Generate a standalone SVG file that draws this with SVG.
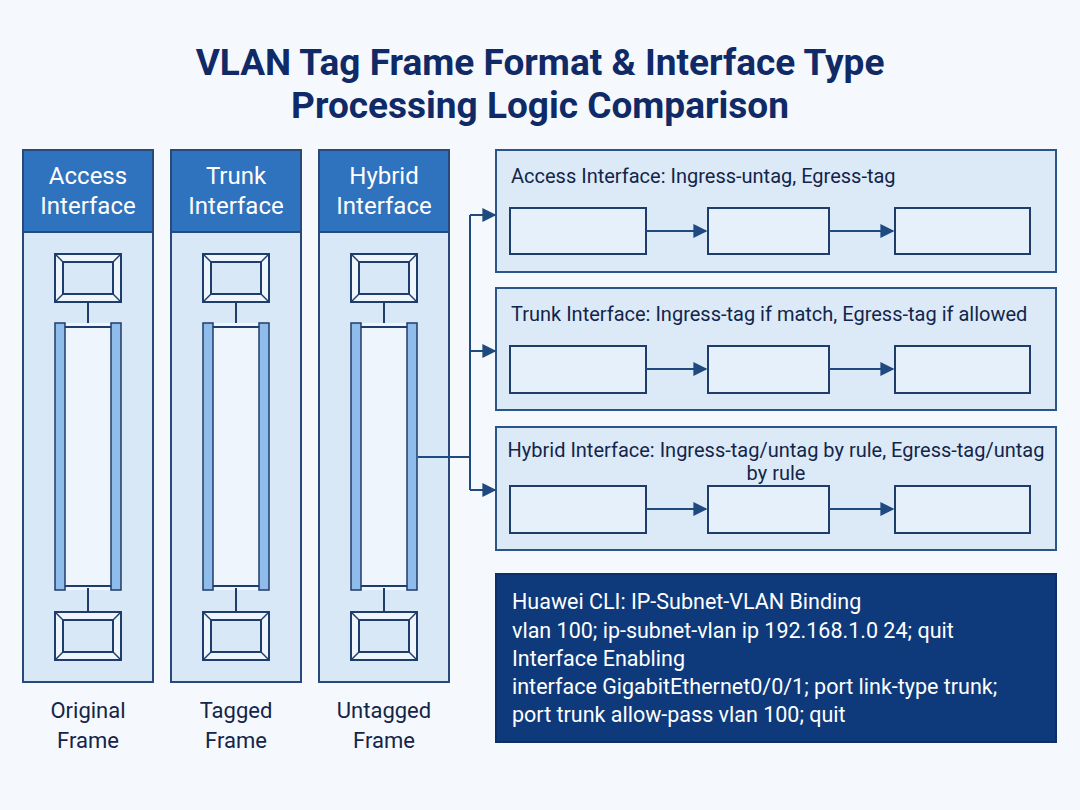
<svg xmlns="http://www.w3.org/2000/svg" width="1080" height="810" viewBox="0 0 1080 810">
<defs>
<style>
.title{font-family:Roboto,"Liberation Sans",sans-serif;font-weight:bold;font-size:37px;fill:#0f2a66;text-anchor:middle}
.hdrtxt{font-family:Roboto,"Liberation Sans",sans-serif;font-size:24px;fill:#ffffff;text-anchor:middle}
.lbl{font-family:Roboto,"Liberation Sans",sans-serif;font-size:22px;fill:#13254a;text-anchor:middle}
.ptitle{font-family:Roboto,"Liberation Sans",sans-serif;font-size:20px;fill:#13254a}
.cli{font-family:Roboto,"Liberation Sans",sans-serif;font-size:21.5px;fill:#ffffff}
.col{fill:#d8e8f7;stroke:#284a7a;stroke-width:2}
.hdr{fill:#2f72bd;stroke:#284a7a;stroke-width:2}
.frm{fill:#eef5fc;stroke:#1f3d6a;stroke-width:2}
.frmi{fill:#d8e8f7;stroke:#1f3d6a;stroke-width:2}
.bev{stroke:#1f3d6a;stroke-width:1.5}
.bar{fill:#8fbcea;stroke:#1f3d6a;stroke-width:1.5}
.barin{fill:#eef5fc;stroke:none}
.ln{stroke:#1f3d6a;stroke-width:2;fill:none}
.panel{fill:#dceaf8;stroke:#2a5588;stroke-width:2}
.ibox{fill:#e6f0fa;stroke:#1f3d6a;stroke-width:2}
.conn{stroke:#1f4a80;stroke-width:2;fill:none}
</style>
<marker id="ah" viewBox="0 0 10 10" refX="9" refY="5" markerWidth="7" markerHeight="7" orient="auto" markerUnits="strokeWidth">
<path d="M0,0 L10,5 L0,10 z" fill="#1f4a80"/>
</marker>
<g id="frameicon">
<rect x="-33" y="-24" width="66" height="48" class="frm"/>
<rect x="-25" y="-16" width="50" height="32" class="frmi"/>
<line x1="-33" y1="-24" x2="-25" y2="-16" class="bev"/>
<line x1="33" y1="-24" x2="25" y2="-16" class="bev"/>
<line x1="-33" y1="24" x2="-25" y2="16" class="bev"/>
<line x1="33" y1="24" x2="25" y2="16" class="bev"/>
</g>
<g id="column">
<rect x="-65" y="0" width="130" height="532" class="col"/>
<rect x="-65" y="0" width="130" height="82" class="hdr"/>
<use href="#frameicon" x="0" y="128"/>
<line x1="0" y1="152" x2="0" y2="173" class="ln"/>
<rect x="-23" y="173" width="46" height="267" class="barin"/>
<rect x="-33" y="173" width="10" height="267" class="bar"/>
<rect x="23" y="173" width="10" height="267" class="bar"/>
<line x1="-23" y1="177" x2="23" y2="177" class="ln" stroke-width="1.5"/>
<line x1="-23" y1="436" x2="23" y2="436" class="ln" stroke-width="1.5"/>
<line x1="0" y1="438" x2="0" y2="462" class="ln"/>
<use href="#frameicon" x="0" y="486"/>
</g>
</defs>
<rect x="0" y="0" width="1080" height="810" fill="#f5f8fc"/>
<g id="title">
<text class="title" x="540" y="75">VLAN Tag Frame Format &amp; Interface Type</text>
<text class="title" x="540" y="118">Processing Logic Comparison</text>
</g>
<g id="access-col">
<use href="#column" x="88" y="150"/>
<text class="hdrtxt" x="88" y="184">Access</text>
<text class="hdrtxt" x="88" y="214">Interface</text>
<text class="lbl" x="88" y="718">Original</text>
<text class="lbl" x="88" y="748">Frame</text>
</g>
<g id="trunk-col">
<use href="#column" x="236" y="150"/>
<text class="hdrtxt" x="236" y="184">Trunk</text>
<text class="hdrtxt" x="236" y="214">Interface</text>
<text class="lbl" x="236" y="718">Tagged</text>
<text class="lbl" x="236" y="748">Frame</text>
</g>
<g id="hybrid-col">
<use href="#column" x="384" y="150"/>
<text class="hdrtxt" x="384" y="184">Hybrid</text>
<text class="hdrtxt" x="384" y="214">Interface</text>
<text class="lbl" x="384" y="718">Untagged</text>
<text class="lbl" x="384" y="748">Frame</text>
</g>
<g id="panel-access">
<rect x="496" y="150" width="560" height="122" class="panel"/>
<text class="ptitle" x="511" y="183">Access Interface: Ingress-untag, Egress-tag</text>
<rect x="510" y="208" width="136" height="46" class="ibox"/>
<rect x="708" y="208" width="121" height="46" class="ibox"/>
<rect x="895" y="208" width="135" height="46" class="ibox"/>
</g>
<g id="panel-trunk">
<rect x="496" y="288" width="560" height="122" class="panel"/>
<text class="ptitle" x="511" y="321">Trunk Interface: Ingress-tag if match, Egress-tag if allowed</text>
<rect x="510" y="346" width="136" height="47" class="ibox"/>
<rect x="708" y="346" width="121" height="47" class="ibox"/>
<rect x="895" y="346" width="135" height="47" class="ibox"/>
</g>
<g id="panel-hybrid">
<rect x="496" y="427" width="560" height="123" class="panel"/>
<text class="ptitle" x="776" y="457" text-anchor="middle">Hybrid Interface: Ingress-tag/untag by rule, Egress-tag/untag</text>
<text class="ptitle" x="776" y="480" text-anchor="middle">by rule</text>
<rect x="510" y="486" width="136" height="47" class="ibox"/>
<rect x="708" y="486" width="121" height="47" class="ibox"/>
<rect x="895" y="486" width="135" height="47" class="ibox"/>
</g>
<g id="cli-panel">
<rect x="496" y="574" width="560" height="168" fill="#0e3a7c" stroke="#0b2f66" stroke-width="2"/>
<text class="cli" x="512" y="609">Huawei CLI: IP-Subnet-VLAN Binding</text>
<text class="cli" x="512" y="638">vlan 100; ip-subnet-vlan ip 192.168.1.0 24; quit</text>
<text class="cli" x="512" y="666">Interface Enabling</text>
<text class="cli" x="512" y="694">interface GigabitEthernet0/0/1; port link-type trunk;</text>
<text class="cli" x="512" y="722">port trunk allow-pass vlan 100; quit</text>
</g>
<g id="connectors">
<polyline points="418,457 470,457" class="conn"/>
<line x1="470" y1="215" x2="470" y2="490" class="conn"/>
<line x1="470" y1="215" x2="495" y2="215" class="conn" marker-end="url(#ah)"/>
<line x1="470" y1="351" x2="495" y2="351" class="conn" marker-end="url(#ah)"/>
<line x1="470" y1="490" x2="495" y2="490" class="conn" marker-end="url(#ah)"/>
<line x1="646" y1="231" x2="706" y2="231" class="conn" marker-end="url(#ah)"/>
<line x1="829" y1="231" x2="893" y2="231" class="conn" marker-end="url(#ah)"/>
<line x1="646" y1="369" x2="706" y2="369" class="conn" marker-end="url(#ah)"/>
<line x1="829" y1="369" x2="893" y2="369" class="conn" marker-end="url(#ah)"/>
<line x1="646" y1="509" x2="706" y2="509" class="conn" marker-end="url(#ah)"/>
<line x1="829" y1="509" x2="893" y2="509" class="conn" marker-end="url(#ah)"/>
</g>
</svg>
